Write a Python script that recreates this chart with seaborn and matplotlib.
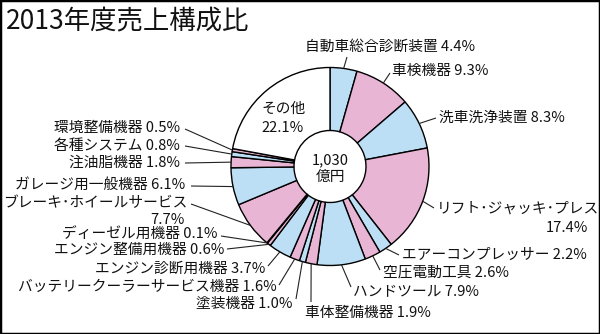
import numpy as np
import matplotlib
matplotlib.use("Agg")
import matplotlib.pyplot as plt
from matplotlib.patches import Rectangle
import seaborn as sns

# ---------------- data ----------------
title = "2013年度売上構成比"
categories = [
    "自動車総合診断装置", "車検機器", "洗車洗浄装置", "リフト･ジャッキ･プレス",
    "エアーコンプレッサー", "空圧電動工具", "ハンドツール", "車体整備機器",
    "塗装機器", "バッテリークーラーサービス機器", "エンジン診断用機器",
    "エンジン整備用機器", "ディーゼル用機器", "ブレーキ･ホイールサービス",
    "ガレージ用一般機器", "注油脂機器", "各種システム", "環境整備機器", "その他",
]
values = [4.4, 9.3, 8.3, 17.4, 2.2, 2.6, 7.9, 1.9, 1.0, 1.6, 3.7,
          0.6, 0.1, 7.7, 6.1, 1.8, 0.8, 0.5, 22.1]
total_value = "1,030"
total_unit = "億円"

# ---------------- style ----------------
sns.set_theme(style="white")
plt.rcParams['font.family'] = ['Noto Sans CJK JP', 'DejaVu Sans']

W, H = 600, 334
BLUE, PINK = "#bcdff6", "#e8b5d4"
colors = [BLUE if i % 2 == 0 else PINK for i in range(len(values) - 1)] + ["white"]

fig = plt.figure(figsize=(W / 100, H / 100), dpi=100)
ax = fig.add_axes([0, 0, 1, 1])

cx, cy, R, r_in = 330, 166.5, 99, 36
wedges, _ = ax.pie(values, colors=colors, startangle=-90, counterclock=True,
                   radius=R, center=(cx, cy), frame=True,
                   wedgeprops=dict(width=R - r_in, edgecolor="black", linewidth=1.0))
ax.set_xlim(0, W)
ax.set_ylim(H, 0)
ax.set_aspect("equal")
ax.axis("off")

# label layout: (text x, text y, ha, line end x, line end y)
layout = {
    "自動車総合診断装置": (305, 47, "left", 347, 57),
    "車検機器": (392, 71, "left", 390, 73),
    "洗車洗浄装置": (439, 118, "left", 436, 118),
    "リフト･ジャッキ･プレス": (437, 209, "left", 434, 208),
    "エアーコンプレッサー": (402, 255, "left", 399, 255),
    "空圧電動工具": (383, 273, "left", 380, 270),
    "ハンドツール": (353, 291, "left", 351, 287),
    "車体整備機器": (305, 313, "left", 311, 302),
    "塗装機器": (292, 304, "right", 296, 299),
    "バッテリークーラーサービス機器": (277, 287, "right", 279, 285),
    "エンジン診断用機器": (265, 269, "right", 268, 266),
    "エンジン整備用機器": (224, 250, "right", 227, 249),
    "ディーゼル用機器": (217, 235, "right", 221, 236),
    "ブレーキ･ホイールサービス": (187, 203, "right", 191, 204),
    "ガレージ用一般機器": (185, 185, "right", 191, 186),
    "注油脂機器": (180, 163, "right", 185, 163),
    "各種システム": (180, 146, "right", 185, 146),
    "環境整備機器": (180, 128, "right", 185, 129),
}
two_line = {"リフト･ジャッキ･プレス": (588, 228), "ブレーキ･ホイールサービス": (185, 220)}

FS = 10.6
TC = "#111111"
cum = np.cumsum([0] + values[:-1])
for cat, val, c0 in zip(categories, values, cum):
    if cat not in layout:
        continue
    tx, ty, ha, lx, ly = layout[cat]
    theta = np.deg2rad(-90 + 3.6 * (c0 + val / 2))
    sx, sy = cx + R * np.cos(theta), cy + R * np.sin(theta)
    ax.plot([sx, lx], [sy, ly], color="#222222", lw=0.8, solid_capstyle="butt")
    if cat in two_line:
        ax.text(tx, ty, cat, ha=ha, va="center", fontsize=FS, color=TC)
        px, py = two_line[cat]
        ax.text(px, py, f"{val}%", ha="right", va="center", fontsize=FS, color=TC)
    else:
        ax.text(tx, ty, f"{cat} {val}%", ha=ha, va="center", fontsize=FS, color=TC)

# その他 inside its slice
ax.text(284, 109, categories[-1], ha="center", va="center", fontsize=FS, color=TC)
ax.text(283, 128, f"{values[-1]}%", ha="center", va="center", fontsize=FS, color=TC)

# centre total
ax.text(cx, 160, total_value, ha="center", va="center", fontsize=FS, color=TC)
ax.text(cx, 177, total_unit, ha="center", va="center", fontsize=FS, color=TC)

# title
ax.text(6, 21, title, ha="left", va="center", fontsize=19, color=TC)

# outer frame
fig.patches.append(Rectangle((0, 0), 1, 1, transform=fig.transFigure, fill=False,
                             lw=2.5, edgecolor="black"))

fig.savefig("out.png", dpi=100)
